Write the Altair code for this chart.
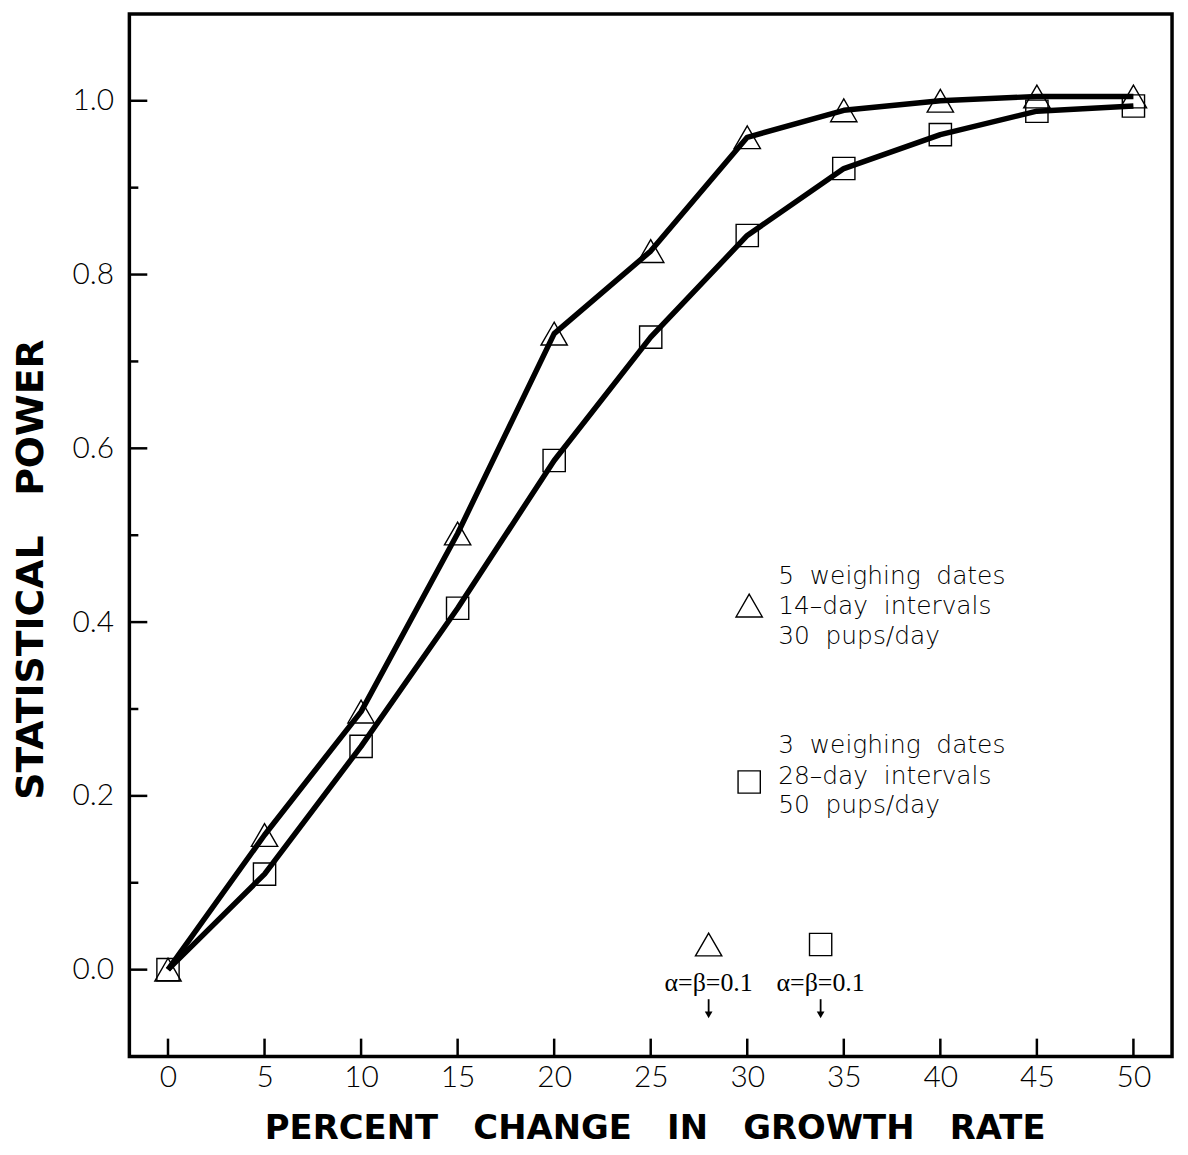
import altair as alt
import pandas as pd

# ---- data ----
pct_change = [0, 5, 10, 15, 20, 25, 30, 35, 40, 45, 50]
power_5dates = [0.0, 0.155, 0.297, 0.502, 0.732, 0.827, 0.958, 0.989, 1.0, 1.005, 1.005]
power_3dates = [0.0, 0.110, 0.257, 0.416, 0.586, 0.728, 0.845, 0.922, 0.961, 0.988, 0.994]

x_ticks = [0, 5, 10, 15, 20, 25, 30, 35, 40, 45, 50]
y_ticks_major = [0.0, 0.2, 0.4, 0.6, 0.8, 1.0]
y_ticks_minor = [0.1, 0.3, 0.5, 0.7, 0.9]

SP = " \u00a0"
legend_tri = ["5" + SP + "weighing" + SP + "dates", "14\u2013day" + SP + "intervals", "30" + SP + "pups/day"]
legend_sq = ["3" + SP + "weighing" + SP + "dates", "28\u2013day" + SP + "intervals", "50" + SP + "pups/day"]
alpha_beta_label = "\u03b1=\u03b2=0.1"
power90_x = [28.0, 33.8]  # effect size at power 0.9 (arrows)

W, H = 1048, 1048
NUM_FONT = "Lato"
GAP = "\u00a0\u00a0 "

xscale = alt.Scale(domain=[-2, 52], nice=False, zero=False)
yscale = alt.Scale(domain=[-0.1, 1.1], nice=False, zero=False)

xaxis = alt.Axis(
    values=x_ticks, format="d", ticks=False, tickSize=0, domain=False, grid=False,
    labelFont=NUM_FONT, labelFontWeight=300, labelFontSize=30, labelColor="black",
    labelPadding=6,
    title="PERCENT" + GAP + "CHANGE" + GAP + "IN" + GAP + "GROWTH" + GAP + "RATE",
    titleFont="DejaVu Sans", titleFontWeight="bold", titleFontSize=34, titleColor="black",
    titleBaseline="alphabetic", titleY=82, titleX=528,
)
yaxis = alt.Axis(
    values=y_ticks_major, format=".1f", ticks=False, tickSize=0, domain=False, grid=False,
    labelFont=NUM_FONT, labelFontWeight=300, labelFontSize=30, labelColor="black",
    labelPadding=16,
    title="STATISTICAL" + GAP + "POWER",
    titleFont="DejaVu Sans", titleFontWeight="bold", titleFontSize=38, titleColor="black",
    titleAngle=270, titleBaseline="alphabetic", titleAlign="center",
    titleX=-87, titleY=558,
)

X = alt.X("x:Q", scale=xscale, axis=xaxis)
Y = alt.Y("y:Q", scale=yscale, axis=yaxis)

tri_df = pd.DataFrame({"x": pct_change, "y": power_5dates})
sq_df = pd.DataFrame({"x": pct_change, "y": power_3dates})

tri_pts = alt.Chart(tri_df).mark_point(
    shape="triangle-up", size=700, filled=False, stroke="black", strokeWidth=1.4, opacity=1
).encode(x=X, y=Y)
sq_pts = alt.Chart(sq_df).mark_point(
    shape="square", size=500, filled=False, stroke="black", strokeWidth=1.4, opacity=1
).encode(x=X, y=Y)
tri_line = alt.Chart(tri_df).mark_line(
    color="black", strokeWidth=5.5, interpolate="linear", strokeJoin="round"
).encode(x=X, y=Y)
sq_line = alt.Chart(sq_df).mark_line(
    color="black", strokeWidth=5.5, interpolate="linear", strokeJoin="round"
).encode(x=X, y=Y)

# inward ticks
xt = alt.Chart(pd.DataFrame({"x": x_ticks})).mark_rule(color="black", strokeWidth=2.5).encode(
    x=X, y=alt.value(H), y2=alt.value(H - 18)
)
ytm = alt.Chart(pd.DataFrame({"y": y_ticks_major})).mark_rule(color="black", strokeWidth=2.5).encode(
    y=Y, x=alt.value(0), x2=alt.value(18)
)
ytn = alt.Chart(pd.DataFrame({"y": y_ticks_minor})).mark_rule(color="black", strokeWidth=2.5).encode(
    y=Y, x=alt.value(0), x2=alt.value(9)
)

# legend annotation block
leg_text_df = pd.DataFrame({
    "x": [31.6] * 6,
    "y": [0.444, 0.409, 0.375, 0.249, 0.214, 0.180],
    "t": legend_tri + legend_sq,
})
leg_text = alt.Chart(leg_text_df).mark_text(
    align="left", baseline="alphabetic", font="DejaVu Sans", fontWeight=200, fontSize=25,
    color="black"
).encode(x=X, y=Y, text="t:N")
leg_tri = alt.Chart(pd.DataFrame({"x": [30.1], "y": [0.419]})).mark_point(
    shape="triangle-up", size=700, filled=False, stroke="black", strokeWidth=1.4, opacity=1
).encode(x=X, y=Y)
leg_sq = alt.Chart(pd.DataFrame({"x": [30.1], "y": [0.216]})).mark_point(
    shape="square", size=500, filled=False, stroke="black", strokeWidth=1.4, opacity=1
).encode(x=X, y=Y)

# alpha = beta = 0.1 markers and arrows
ab_tri = alt.Chart(pd.DataFrame({"x": [power90_x[0]], "y": [0.029]})).mark_point(
    shape="triangle-up", size=700, filled=False, stroke="black", strokeWidth=1.4, opacity=1
).encode(x=X, y=Y)
ab_sq = alt.Chart(pd.DataFrame({"x": [power90_x[1]], "y": [0.029]})).mark_point(
    shape="square", size=500, filled=False, stroke="black", strokeWidth=1.4, opacity=1
).encode(x=X, y=Y)
ab_text = alt.Chart(pd.DataFrame({"x": power90_x, "y": [-0.025, -0.025],
                                  "t": [alpha_beta_label, alpha_beta_label]})).mark_text(
    align="center", baseline="alphabetic", font="Liberation Serif", fontSize=26, color="black"
).encode(x=X, y=Y, text="t:N")
arrow_df = pd.DataFrame({"x": power90_x, "y": [-0.034, -0.034], "y2": [-0.049, -0.049]})
arrow_shaft = alt.Chart(arrow_df).mark_rule(color="black", strokeWidth=1.8).encode(
    x=X, y=Y, y2="y2:Q"
)
arrow_head = alt.Chart(pd.DataFrame({"x": power90_x, "y": [-0.052, -0.052]})).mark_point(
    shape="triangle-down", size=60, filled=True, color="black", opacity=1
).encode(x=X, y=Y)

chart = alt.layer(
    xt, ytm, ytn,
    tri_pts, sq_pts, tri_line, sq_line,
    leg_text, leg_tri, leg_sq,
    ab_tri, ab_sq, ab_text, arrow_shaft, arrow_head,
).properties(
    width=W, height=H,
    background="white",
    autosize=alt.AutoSizeParams(type="none"),
    padding={"left": 122, "top": 3, "right": 8, "bottom": 88},
).configure_view(
    stroke="black", strokeWidth=3.5
)

chart.save("out.html", embed_options={"renderer": "svg", "actions": False})
